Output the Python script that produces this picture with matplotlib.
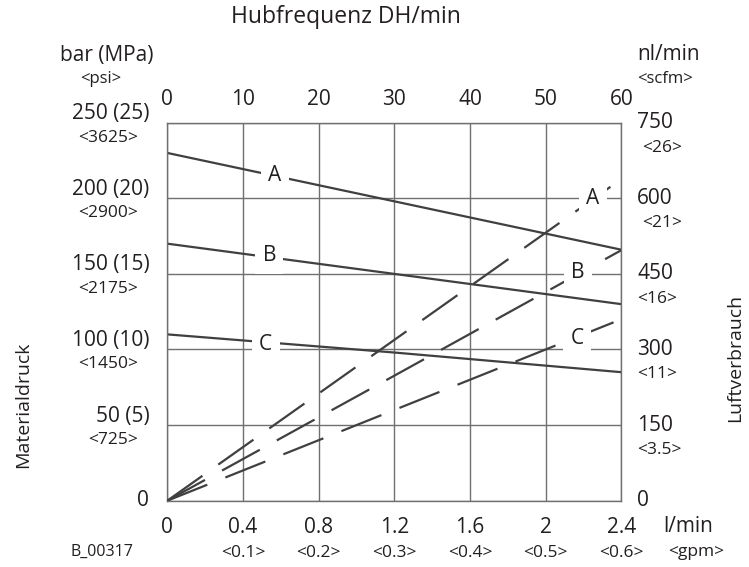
import matplotlib
matplotlib.use('Agg')
import matplotlib.pyplot as plt
from matplotlib.transforms import offset_copy

plt.rcParams['font.family'] = ['Open Sans', 'DejaVu Sans']
plt.rcParams['lines.scale_dashes'] = False

# data
flow = [0, 1.2, 2.4]                      # l/min
press_a = [230, 198, 166]                 # bar
press_b = [170, 150, 130]
press_c = [110, 98, 85]
air_a = [0, 319, 638]                     # nl/min
air_b = [0, 248, 497]
air_c = [0, 180, 360]

x_ticks = [0, 0.4, 0.8, 1.2, 1.6, 2.0, 2.4]
x_labels = ['0', '0.4', '0.8', '1.2', '1.6', '2', '2.4']
x_sub = ['', '<0.1>', '<0.2>', '<0.3>', '<0.4>', '<0.5>', '<0.6>']
top_labels = ['0', '10', '20', '30', '40', '50', '60']
y_ticks = [0, 50, 100, 150, 200, 250]
y_labels = ['0', '50 (5)', '100 (10)', '150 (15)', '200 (20)', '250 (25)']
y_sub = ['', '<725>', '<1450>', '<2175>', '<2900>', '<3625>']
r_ticks = [0, 150, 300, 450, 600, 750]
r_labels = ['0', '150', '300', '450', '600', '750']
r_sub = ['', '<3.5>', '<11>', '<16>', '<21>', '<26>']

txt = '#231f20'
line_c = '#404040'
grid_c = '#707070'
W, H = 749, 567

fig = plt.figure(figsize=(W / 100, H / 100), dpi=100)
ax = fig.add_axes([167.3 / W, 1 - 500.7 / H, 454 / W, 378 / H])
ax.set_xlim(0, 2.4)
ax.set_ylim(0, 250)
ax.set_xticks(x_ticks)
ax.set_yticks(y_ticks)
ax.tick_params(length=0, labelbottom=False, labelleft=False)
ax.grid(True, color=grid_c, lw=1.0)
for s in ax.spines.values():
    s.set_color(grid_c)
    s.set_linewidth(1.0)

ax2 = ax.twinx()
ax2.set_ylim(0, 750)
ax2.set_yticks([])
for s in ax2.spines.values():
    s.set_visible(False)

for p in (press_a, press_b, press_c):
    ax.plot(flow, p, color=line_c, lw=1.6, solid_capstyle='butt')
for a in (air_a, air_b, air_c):
    ax2.plot(flow, a, color=line_c, lw=1.6, dashes=(31, 14), dash_capstyle='butt')

# curve letters
box = dict(boxstyle='square,pad=0.35', fc='white', ec='none')
for lab, xx, yy in [('A', 0.57, 215), ('B', 0.54, 162), ('C', 0.52, 103),
                    ('A', 2.25, 200), ('B', 2.17, 151), ('C', 2.165, 107)]:
    ax2.text(xx, yy, lab, transform=ax.transData, ha='center', va='center',
             fontsize=15, color=txt, bbox=box, zorder=5)


def off(trans, dx, dy):
    return offset_copy(trans, fig=fig, x=dx, y=dy, units='dots')


ytr = ax.get_yaxis_transform()
for v, lab, sub in zip(y_ticks, y_labels, y_sub):
    dy = 0 if v == 0 else 9
    ax.text(0, v, lab, transform=off(ytr, -18, dy), ha='right', va='center',
            fontsize=15, color=txt, clip_on=False)
    if sub:
        ax.text(0, v, sub, transform=off(ytr, -29, -15), ha='right', va='center',
                fontsize=12.5, color=txt, clip_on=False)

rtr = ax2.get_yaxis_transform()
for v, lab, sub in zip(r_ticks, r_labels, r_sub):
    ax2.text(1, v, lab, transform=off(rtr, 16, 0), ha='left', va='center',
             fontsize=15, color=txt, clip_on=False)
    if sub:
        dx = 21 if v >= 600 else 16
        ax2.text(1, v, sub, transform=off(rtr, dx, -25), ha='left', va='center',
                 fontsize=12.5, color=txt, clip_on=False)

xtr = ax.get_xaxis_transform()
for v, lab, sub, top in zip(x_ticks, x_labels, x_sub, top_labels):
    ax.text(v, 0, lab, transform=off(xtr, 0, -27), ha='center', va='center',
            fontsize=15, color=txt, clip_on=False)
    if sub:
        ax.text(v, 0, sub, transform=off(xtr, 0, -52), ha='center', va='center',
                fontsize=12.5, color=txt, clip_on=False)
    ax.text(v, 1, top, transform=off(xtr, 0, 23), ha='center', va='center',
            fontsize=15, color=txt, clip_on=False)


def ftext(x, y, s, **kw):
    kw.setdefault('color', txt)
    fig.text(x / W, 1 - y / H, s, **kw)


ftext(346, 17, 'Hubfrequenz DH/min', ha='center', va='center', fontsize=16.5)
ftext(107, 55, 'bar (MPa)', ha='center', va='center', fontsize=15)
ftext(101, 79, '<psi>', ha='center', va='center', fontsize=12)
ftext(637, 55, 'nl/min', ha='left', va='center', fontsize=15)
ftext(637, 79, '<scfm>', ha='left', va='center', fontsize=12)
ftext(663, 527, 'l/min', ha='left', va='center', fontsize=15)
ftext(668, 552, '<gpm>', ha='left', va='center', fontsize=12.5)
ftext(102, 552, 'B_00317', ha='center', va='center', fontsize=11.5)
ftext(23, 405, 'Materialdruck', ha='center', va='center', fontsize=14, rotation=90)
ftext(735, 358, 'Luftverbrauch', ha='center', va='center', fontsize=14, rotation=90)

fig.savefig('out.png', dpi=100)
